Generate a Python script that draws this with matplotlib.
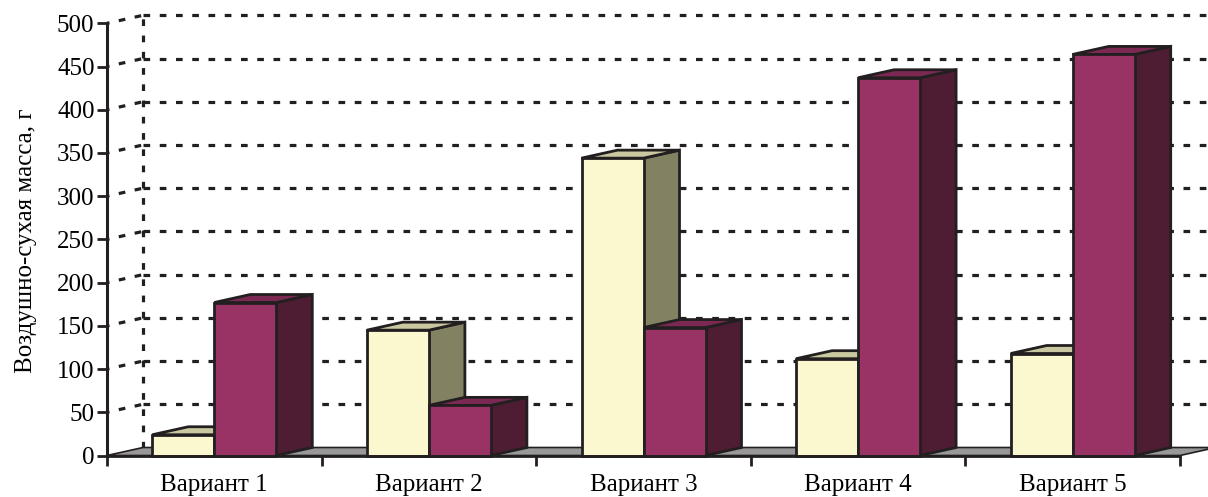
import matplotlib
matplotlib.use('Agg')
import matplotlib.pyplot as plt
from matplotlib.patches import Polygon

plt.rcParams['font.family'] = ['Liberation Serif', 'DejaVu Serif']
plt.rcParams['lines.scale_dashes'] = False

variants = ['Вариант 1', 'Вариант 2', 'Вариант 3', 'Вариант 4', 'Вариант 5']
series_a = [24, 145, 344, 112, 118]
series_b = [177, 58, 148, 437, 464]
y_ticks = [0, 50, 100, 150, 200, 250, 300, 350, 400, 450, 500]
y_label = 'Воздушно-сухая масса, г'

# front / top / side shades for each series
shades_a = ('#FBF8D0', '#C9C8A0', '#828262')
shades_b = ('#993366', '#7B2953', '#4E1C33')
edge = '#231F20'

fig = plt.figure(figsize=(12.08, 4.97), dpi=100)
W, H = 1208, 497
ax = fig.add_axes([107 / W, (H - 455.5) / H, 1073 / W, 432.2 / H])
ax.set_xlim(0, 5)
ax.set_ylim(0, 500)

# oblique depth offset (data units)
dx = 36 / 214.6
dy = 8 / 0.8644
bw = 62 / 214.6
dash = (0, (4.8, 6.9))

# back wall and side wall grid
x_right = 5.2
for v in y_ticks[1:]:
    ax.plot([dx, x_right], [v + dy, v + dy], color=edge, lw=2.3,
            linestyle=dash, dash_capstyle='butt', clip_on=False, zorder=1)
    ax.plot([0, dx], [v, v + dy], color=edge, lw=2.3,
            linestyle=(3, (4.8, 6.9)), dash_capstyle='butt', clip_on=False, zorder=1)
ax.plot([dx, dx], [dy, 500 + dy], color=edge, lw=2.3,
        linestyle=dash, dash_capstyle='butt', clip_on=False, zorder=1)

# floor
floor = Polygon([(0, 0), (5, 0), (5 + dx, dy), (dx, dy)], closed=True,
                facecolor='#989898', edgecolor=edge, lw=1.2,
                clip_on=False, zorder=2)
ax.add_patch(floor)


def draw_bar(x0, v, shades, z):
    x1 = x0 + bw
    front, top, side = shades
    kw = dict(closed=True, edgecolor=edge, lw=2.0, joinstyle='miter',
              clip_on=False, zorder=z)
    ax.add_patch(Polygon([(x1, 0), (x1 + dx, dy), (x1 + dx, v + dy), (x1, v)],
                         facecolor=side, **kw))
    ax.add_patch(Polygon([(x0, v), (x1, v), (x1 + dx, v + dy), (x0 + dx, v + dy)],
                         facecolor=top, **kw))
    ax.add_patch(Polygon([(x0, 0), (x1, 0), (x1, v), (x0, v)],
                         facecolor=front, **kw))


for i in range(len(variants)):
    c = i + 0.5
    draw_bar(c - bw, series_a[i], shades_a, 3 + 2 * i)
    draw_bar(c, series_b[i], shades_b, 4 + 2 * i)

# axes
for s in ['top', 'right']:
    ax.spines[s].set_visible(False)
ax.spines['left'].set_linewidth(2.2)
ax.spines['bottom'].set_linewidth(2.0)
ax.spines['left'].set_color(edge)
ax.spines['bottom'].set_color(edge)
ax.spines['left'].set_zorder(20)
ax.spines['bottom'].set_zorder(20)

ax.set_yticks(y_ticks)
ax.set_yticklabels([str(t) for t in y_ticks], fontsize=18)
ax.tick_params(axis='y', direction='out', length=7, width=2, color=edge, pad=2)

ax.set_xticks(range(6))
ax.set_xticklabels([''] * 6)
ax.set_xticks([i + 0.5 for i in range(5)], minor=True)
ax.set_xticklabels(variants, minor=True, fontsize=18)
ax.tick_params(axis='x', which='major', direction='out', length=7, width=2, color=edge)
ax.tick_params(axis='x', which='minor', length=0, pad=13)

fig.text(26 / W, 0.515, y_label, rotation=90, fontsize=18,
         ha='center', va='center')

fig.savefig('out.png', dpi=100)
